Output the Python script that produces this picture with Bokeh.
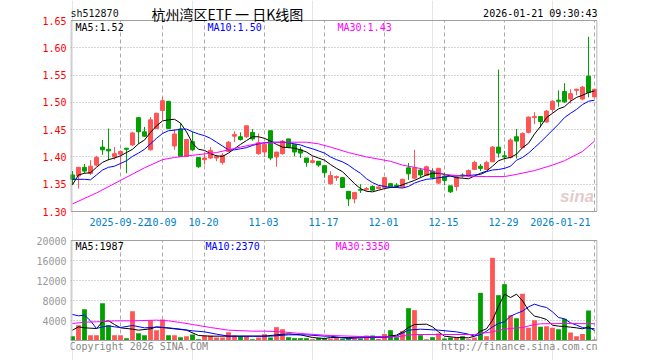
import pandas as pd
from bokeh.plotting import figure
from bokeh.models import Range1d, FixedTicker, Label, ColumnDataSource, NumeralTickFormatter, BoxAnnotation
from bokeh.layouts import column
from bokeh.embed import file_html
from bokeh.resources import INLINE

# ---------------- data ----------------
holidays = ["2025-10-01", "2025-10-02", "2025-10-03", "2025-10-06", "2025-10-07",
            "2025-10-08", "2026-01-01", "2026-01-02"]
dates = [d.strftime("%Y-%m-%d") for d in pd.bdate_range("2025-09-10", "2026-01-21")
         if d.strftime("%Y-%m-%d") not in holidays]

tick_dates = ["2025-09-22", "2025-10-09", "2025-10-20", "2025-11-03", "2025-11-17",
              "2025-12-01", "2025-12-15", "2025-12-29", "2026-01-21"]
tick_labels = ["2025-09-22", "10-09", "10-20", "11-03", "11-17",
               "12-01", "12-15", "12-29", "2026-01-21"]

price_ticks = [1.30, 1.35, 1.40, 1.45, 1.50, 1.55, 1.60, 1.65]
vol_ticks = [0, 4000, 8000, 12000, 16000, 20000]

opens = [1.367, 1.365, 1.381, 1.370, 1.385, 1.418, 1.414, 1.400, 1.405, 1.416,
         1.422, 1.472, 1.446, 1.413, 1.452, 1.485, 1.502, 1.420, 1.451, 1.401,
         1.428, 1.399, 1.395, 1.398, 1.398, 1.390, 1.410, 1.438, 1.437, 1.437,
         1.445, 1.406, 1.409, 1.448, 1.400, 1.406, 1.433, 1.423, 1.413, 1.398,
         1.390, 1.392, 1.384, 1.351, 1.362, 1.362, 1.337, 1.323, 1.340, 1.340,
         1.346, 1.342, 1.344, 1.351, 1.348, 1.345, 1.380, 1.361, 1.376, 1.366,
         1.374, 1.352, 1.365, 1.347, 1.346, 1.367, 1.365, 1.377, 1.383, 1.377,
         1.391, 1.418, 1.402, 1.399, 1.437, 1.417, 1.445, 1.472, 1.474, 1.464,
         1.487, 1.504, 1.520, 1.506, 1.522, 1.506, 1.548, 1.510]
highs = [1.374, 1.381, 1.387, 1.394, 1.402, 1.431, 1.452, 1.418, 1.412, 1.416,
         1.446, 1.472, 1.455, 1.473, 1.481, 1.510, 1.502, 1.451, 1.462, 1.432,
         1.446, 1.399, 1.407, 1.418, 1.404, 1.407, 1.429, 1.447, 1.445, 1.457,
         1.451, 1.443, 1.426, 1.448, 1.409, 1.431, 1.433, 1.423, 1.418, 1.398,
         1.401, 1.392, 1.384, 1.374, 1.366, 1.362, 1.337, 1.335, 1.350, 1.345,
         1.348, 1.346, 1.363, 1.352, 1.352, 1.360, 1.389, 1.413, 1.380, 1.384,
         1.379, 1.380, 1.371, 1.347, 1.364, 1.370, 1.377, 1.393, 1.387, 1.393,
         1.420, 1.560, 1.411, 1.434, 1.451, 1.445, 1.474, 1.482, 1.474, 1.486,
         1.504, 1.522, 1.535, 1.524, 1.525, 1.530, 1.620, 1.524]
lows = [1.349, 1.342, 1.370, 1.367, 1.383, 1.404, 1.394, 1.395, 1.379, 1.370,
        1.420, 1.424, 1.437, 1.412, 1.452, 1.468, 1.451, 1.413, 1.401, 1.401,
        1.411, 1.380, 1.386, 1.396, 1.392, 1.386, 1.409, 1.427, 1.430, 1.435,
        1.430, 1.404, 1.400, 1.394, 1.382, 1.404, 1.416, 1.401, 1.398, 1.382,
        1.388, 1.382, 1.362, 1.349, 1.356, 1.344, 1.310, 1.315, 1.334, 1.338,
        1.338, 1.341, 1.342, 1.344, 1.344, 1.344, 1.358, 1.359, 1.362, 1.365,
        1.359, 1.350, 1.348, 1.334, 1.338, 1.362, 1.363, 1.376, 1.374, 1.376,
        1.391, 1.399, 1.396, 1.397, 1.397, 1.416, 1.443, 1.460, 1.454, 1.463,
        1.481, 1.492, 1.499, 1.498, 1.513, 1.504, 1.509, 1.509]
closes = [1.359, 1.381, 1.374, 1.383, 1.399, 1.413, 1.411, 1.406, 1.410, 1.414,
          1.444, 1.446, 1.438, 1.468, 1.480, 1.503, 1.452, 1.442, 1.401, 1.432,
          1.413, 1.382, 1.398, 1.412, 1.401, 1.403, 1.427, 1.441, 1.432, 1.457,
          1.433, 1.426, 1.423, 1.398, 1.409, 1.429, 1.418, 1.409, 1.407, 1.390,
          1.393, 1.385, 1.371, 1.366, 1.364, 1.344, 1.323, 1.335, 1.339, 1.342,
          1.339, 1.345, 1.362, 1.345, 1.346, 1.359, 1.369, 1.380, 1.367, 1.382,
          1.362, 1.379, 1.357, 1.336, 1.363, 1.365, 1.375, 1.390, 1.379, 1.390,
          1.418, 1.407, 1.400, 1.431, 1.429, 1.443, 1.473, 1.474, 1.465, 1.484,
          1.502, 1.502, 1.501, 1.516, 1.524, 1.528, 1.518, 1.524]
volumes = [867, 3067, 6267, 1067, 1067, 7467, 3067, 1067, 1067, 467,
           5867, 1467, 1067, 4000, 2067, 4200, 1067, 1067, 667, 867,
           1200, 267, 933, 933, 600, 600, 1667, 1000, 867, 867,
           267, 600, 1267, 600, 2667, 2267, 667, 467, 467, 467,
           267, 467, 467, 400, 500, 400, 600, 400, 400, 1000,
           1000, 300, 1300, 2067, 667, 1867, 6467, 6067, 1067, 267,
           667, 1400, 400, 600, 600, 867, 267, 600, 9533, 867,
           16533, 9067, 11267, 5067, 4467, 9333, 2533, 4067, 2733, 2867,
           2533, 2267, 4333, 1600, 850, 1300, 6000, 200]

# moving averages
ma5 = [1.349, 1.367, 1.370, 1.371, 1.381, 1.390, 1.395, 1.398, 1.402, 1.408,
       1.414, 1.424, 1.431, 1.445, 1.457, 1.466, 1.468, 1.469, 1.462, 1.446,
       1.425, 1.414, 1.412, 1.406, 1.402, 1.401, 1.407, 1.415, 1.423, 1.430,
       1.437, 1.437, 1.434, 1.429, 1.423, 1.418, 1.417, 1.416, 1.413, 1.409,
       1.402, 1.398, 1.394, 1.386, 1.379, 1.373, 1.362, 1.351, 1.342, 1.337,
       1.336, 1.339, 1.342, 1.344, 1.345, 1.349, 1.353, 1.357, 1.362, 1.367,
       1.370, 1.370, 1.368, 1.365, 1.362, 1.361, 1.360, 1.365, 1.370, 1.374,
       1.383, 1.393, 1.397, 1.399, 1.405, 1.417, 1.425, 1.442, 1.456, 1.472,
       1.480, 1.488, 1.492, 1.502, 1.509, 1.513, 1.518, 1.521]
ma10 = [1.359, 1.359, 1.359, 1.358, 1.367, 1.376, 1.381, 1.383, 1.388, 1.393,
        1.401, 1.407, 1.414, 1.424, 1.434, 1.443, 1.448, 1.449, 1.451, 1.451,
        1.446, 1.442, 1.439, 1.434, 1.427, 1.420, 1.413, 1.413, 1.415, 1.417,
        1.421, 1.424, 1.426, 1.427, 1.427, 1.427, 1.426, 1.424, 1.422, 1.418,
        1.415, 1.411, 1.407, 1.400, 1.395, 1.391, 1.385, 1.377, 1.370, 1.360,
        1.353, 1.348, 1.346, 1.344, 1.344, 1.343, 1.346, 1.352, 1.356, 1.359,
        1.360, 1.362, 1.363, 1.365, 1.365, 1.366, 1.366, 1.367, 1.368, 1.373,
        1.376, 1.377, 1.379, 1.383, 1.394, 1.399, 1.407, 1.417, 1.427, 1.438,
        1.449, 1.460, 1.472, 1.480, 1.487, 1.496, 1.502, 1.504]
ma30_idx = [0, 4, 8, 12, 15, 17, 20, 24, 28, 31, 35, 39, 41, 43, 46, 49, 53, 55,
            57, 60, 62, 65, 69, 72, 74, 77, 80, 82, 85, 87]
ma30 = [1.314, 1.334, 1.357, 1.380, 1.395, 1.399, 1.403, 1.408, 1.418, 1.425,
        1.427, 1.427, 1.424, 1.418, 1.408, 1.400, 1.392, 1.385, 1.381, 1.374,
        1.368, 1.365, 1.364, 1.364, 1.368, 1.375, 1.385, 1.393, 1.410, 1.429]

vma5_idx = [0, 1, 2, 4, 5, 6, 7, 8, 10, 11, 13, 14, 15, 17, 19, 21, 23, 26, 29, 32,
            34, 36, 38, 40, 42, 43, 46, 49, 52, 54, 55, 56, 57, 59, 60, 61, 62, 64,
            66, 67, 68, 69, 70, 71, 72, 73, 74, 75, 76, 77, 78, 79, 80, 81, 82, 83,
            84, 85, 86, 87]
vma5 = [2067, 2733, 2533, 2400, 3733, 3933, 3200, 2533, 2267, 2067, 2333, 2733,
        2600, 2333, 2067, 1000, 867, 867, 867, 867, 1133, 1333, 1133, 600, 400,
        600, 600, 733, 733, 1067, 1733, 2600, 3200, 3267, 2733, 1733, 867, 600,
        533, 867, 1867, 2333, 4067, 6867, 9267, 8600, 9267, 7933, 6067, 4867,
        4600, 4200, 3067, 2867, 2800, 2667, 2533, 2333, 2733, 1987]
vma10_idx = [0, 1, 2, 3, 4, 5, 6, 7, 8, 10, 12, 14, 16, 18, 20, 22, 24, 26, 30, 33,
             36, 39, 42, 43, 46, 49, 52, 54, 56, 58, 61, 64, 66, 67, 68, 69, 70, 71,
             72, 73, 74, 75, 76, 77, 78, 79, 80, 81, 82, 83, 84, 85, 86, 87]
vma10 = [5200, 4933, 5067, 3933, 2400, 2733, 2933, 2733, 2600, 3000, 2533, 2667,
         2533, 2267, 1933, 1733, 1267, 867, 867, 867, 1133, 1133, 867, 867, 400,
         600, 600, 867, 2067, 2267, 2067, 1733, 1267, 867, 1200, 1867, 2733, 3400,
         3733, 4867, 5400, 5867, 6733, 7267, 6867, 6600, 5733, 4600, 4333, 3533,
         3067, 2600, 2400, 2370]
vma30_idx = [0, 2, 4, 7, 10, 14, 16, 18, 20, 23, 26, 30, 32, 35, 38, 42, 43, 50,
             54, 57, 67, 68, 70, 71, 73, 75, 77, 78, 82, 87]
vma30 = [3400, 3667, 3733, 3933, 3933, 4067, 3933, 3600, 3200, 2600, 2067, 1867,
         1867, 1733, 1400, 1067, 1000, 733, 733, 1200, 1200, 1400, 1733, 2067,
         2400, 2600, 3200, 3333, 3400, 3350]

# ---------------- styling ----------------
RED = "#ff5555"
GREEN = "#00a000"
MONO = "DejaVu Sans Mono"
FRAME = "#a0a0a0"
GRID = "#aaaaaa"
PX_PER_BAR = 6.0

xs = list(range(len(dates)))
tick_idx = [dates.index(d) for d in tick_dates]
colors = [RED if c >= o else GREEN for o, c in zip(opens, closes)]
src = ColumnDataSource(dict(
    x=xs, vol=volumes, color=colors, high=highs, low=lows,
    top=[max(o, c) for o, c in zip(opens, closes)],
    bottom=[min(o, c) for o, c in zip(opens, closes)],
))

W, LEFT, RIGHT = 660, 70, 63
x_start = xs[0] - 2 / PX_PER_BAR
xr = Range1d(x_start, x_start + (W - LEFT - RIGHT) / PX_PER_BAR)
box_l = x_start + 0.5 / PX_PER_BAR
box_r = xr.end - 0.5 / PX_PER_BAR


def make_panel(height, lo, hi, top_pad, bottom_pad, panel_px):
    per_px = (hi - lo) / panel_px
    p = figure(width=W, height=height, x_range=xr,
               y_range=Range1d(lo - bottom_pad * per_px, hi + top_pad * per_px),
               output_backend="svg", toolbar_location=None,
               x_axis_location=None, y_axis_location="left",
               min_border_left=LEFT, min_border_right=RIGHT, min_border_top=0, min_border_bottom=0)
    p.outline_line_color = None
    p.background_fill_color = "white"
    p.border_fill_color = "white"
    ax = p.yaxis[0]
    ax.axis_line_color = None
    ax.major_tick_line_color = None
    ax.minor_tick_line_color = None
    ax.major_tick_in = 0
    ax.major_tick_out = 0
    ax.major_label_standoff = 4
    ax.major_label_text_font = MONO
    ax.major_label_text_font_size = "10px"
    p.ygrid.grid_line_color = GRID
    p.ygrid.grid_line_dash = "1 2"
    # vertical date grid, limited to the panel box
    p.segment(x0=tick_idx, y0=lo, x1=tick_idx, y1=hi, line_color=GRID, line_dash="4 3", line_width=1)
    p.add_layout(BoxAnnotation(left=box_l, right=box_r, bottom=lo, top=hi, fill_alpha=0,
                               line_color=FRAME, line_width=1, line_alpha=1))
    return p


# ---------------- price panel ----------------
p_lo, p_hi = price_ticks[0], price_ticks[-1]
p1 = make_panel(230, p_lo, p_hi, top_pad=20, bottom_pad=19, panel_px=191)
p1.yaxis.ticker = FixedTicker(ticks=price_ticks)
p1.yaxis.formatter = NumeralTickFormatter(format="0.00")
p1.yaxis.major_label_text_color = "#ff0000"
p1.ygrid.ticker = FixedTicker(ticks=price_ticks[1:-1])

p1.segment(x0="x", y0="low", x1="x", y1="high", line_color="color", line_width=1, source=src)
p1.vbar(x="x", width=0.66, top="top", bottom="bottom", fill_color="color",
        line_color="color", line_width=1, source=src)
p1.line(xs, ma5, line_color="#000000", line_width=1)
p1.line(xs, ma10, line_color="#0000ff", line_width=1)
p1.line(ma30_idx, ma30, line_color="#ff00ff", line_width=1)

# watermark
p1.add_layout(Label(x=box_r, y=p_lo, x_offset=-3, y_offset=6, text="sina",
                    text_align="right", text_baseline="bottom", text_font="Liberation Sans",
                    text_font_size="17px", text_font_style="bold italic",
                    text_color="#d8b4b4", text_alpha=0.7))

# header
p1.add_layout(Label(x=x_start, y=p_hi, y_offset=7, text="sh512870", text_baseline="middle",
                    text_align="left", text_font=MONO, text_font_size="10px", text_color="#111111"))
p1.add_layout(Label(x=x_start, y=p_hi, x_offset=81, y_offset=7, text="杭州湾区ETF 一 日K线图",
                    text_baseline="middle", text_align="left", text_font="Noto Sans CJK SC",
                    text_font_size="14px", text_color="#000000"))
p1.add_layout(Label(x=xr.end, y=p_hi, x_offset=0, y_offset=7, text="2026-01-21 09:30:43",
                    text_baseline="middle", text_align="right", text_font=MONO,
                    text_font_size="10px", text_color="#000000"))

# MA legend texts
for off, name, val, col in [(5, "MA5", ma5[-1], "#000000"), (137, "MA10", ma10[-1], "#0000ff"),
                            (267, "MA30", ma30[-1], "#ff00ff")]:
    p1.add_layout(Label(x=x_start, y=p_hi, x_offset=off, y_offset=-7,
                        text=f"{name}:{val:.2f}", text_baseline="middle", text_align="left",
                        text_font=MONO, text_font_size="10px", text_color=col))

# x tick labels
for i, (ix, lab) in enumerate(zip(tick_idx, tick_labels)):
    last = i == len(tick_idx) - 1
    p1.add_layout(Label(x=ix, y=p_lo, x_offset=-4 if last else -1, y_offset=-10, text=lab,
                        text_baseline="middle", text_align="right" if last else "center",
                        text_font=MONO, text_font_size="10px", text_color="#0080cc"))

# ---------------- volume panel ----------------
v_lo, v_hi = vol_ticks[0], vol_ticks[-1]
p2 = make_panel(130, v_lo, v_hi, top_pad=10, bottom_pad=20, panel_px=100)
p2.yaxis.ticker = FixedTicker(ticks=vol_ticks[1:])
p2.yaxis.formatter = NumeralTickFormatter(format="0")
p2.yaxis.major_label_text_color = "#999999"
p2.ygrid.ticker = FixedTicker(ticks=vol_ticks[1:-1])

p2.vbar(x="x", width=0.8, top="vol", bottom=v_lo, fill_color="color", line_color=None, source=src)
p2.line(vma5_idx, vma5, line_color="#000000", line_width=1)
p2.line(vma10_idx, vma10, line_color="#0000ff", line_width=1)
p2.line(vma30_idx, vma30, line_color="#ff00ff", line_width=1)

for off, name, val, col in [(5, "MA5", vma5[-1], "#000000"), (135, "MA10", vma10[-1], "#0000ff"),
                            (265, "MA30", vma30[-1], "#ff00ff")]:
    p2.add_layout(Label(x=x_start, y=v_hi, x_offset=off, y_offset=-6,
                        text=f"{name}:{val}", text_baseline="middle", text_align="left",
                        text_font=MONO, text_font_size="10px", text_color=col))

p2.add_layout(Label(x=x_start, y=v_lo, x_offset=-1, y_offset=-6, text="Copyright 2026 SINA.COM",
                    text_baseline="middle", text_align="left", text_font=MONO,
                    text_font_size="10px", text_color="#888888"))
p2.add_layout(Label(x=xr.end, y=v_lo, x_offset=0, y_offset=-6, text="http://finance.sina.com.cn",
                    text_baseline="middle", text_align="right", text_font=MONO,
                    text_font_size="10px", text_color="#888888"))

layout = column(p1, p2, spacing=0)
open("out.html", "w").write(file_html(layout, INLINE))
